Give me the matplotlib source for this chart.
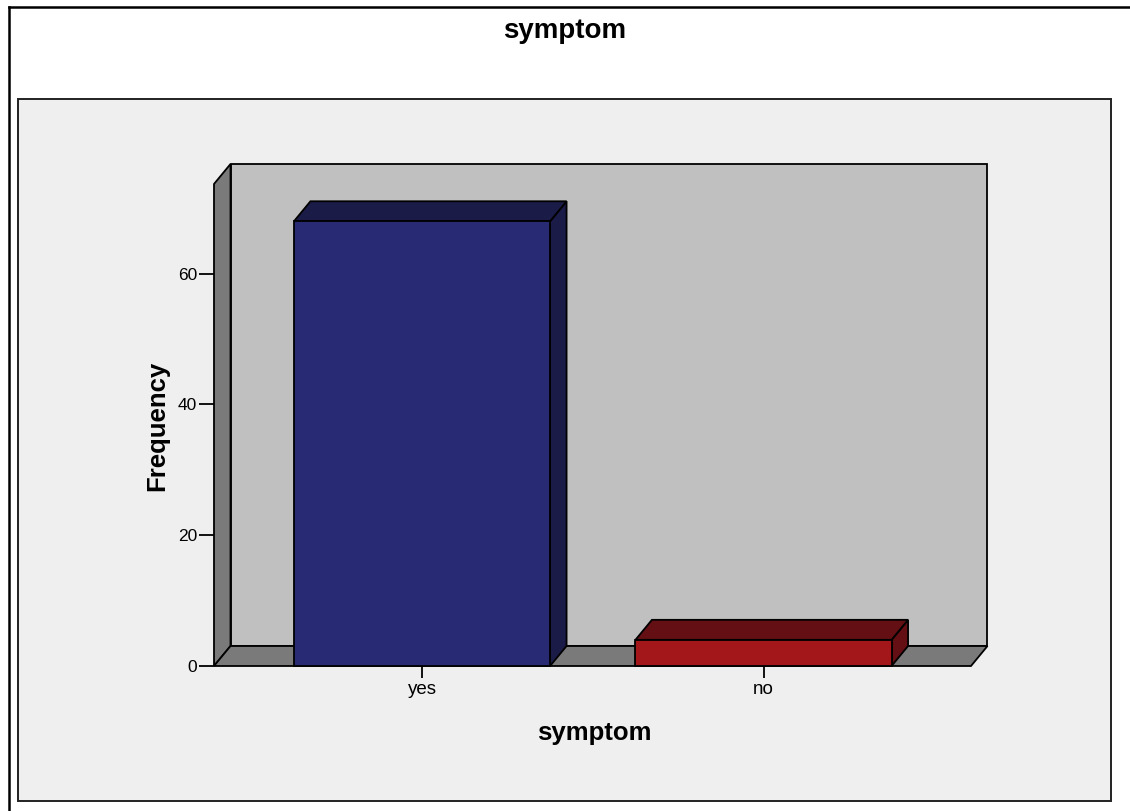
import matplotlib
matplotlib.use("Agg")
import matplotlib.pyplot as plt
from matplotlib.patches import Polygon, Rectangle
from matplotlib import font_manager as fm
import os

# ---- data ----
title = "symptom"
categories = ["yes", "no"]
frequencies = [68, 4]
y_ticks = [0, 20, 40, 60]
x_label = "symptom"
y_label = "Frequency"

front_colors = ["#282A74", "#A3171B"]
shade_colors = ["#1B1B48", "#630F13"]

# locate regular (non-narrow) Liberation Sans
def find_font(name):
    for f in fm.findSystemFonts():
        if os.path.basename(f) == name:
            return f
    return None

reg_path = find_font("LiberationSans-Regular.ttf")
bold_path = find_font("LiberationSans-Bold.ttf")
fp_reg = fm.FontProperties(fname=reg_path) if reg_path else fm.FontProperties(family="DejaVu Sans")
fp_bold = fm.FontProperties(fname=bold_path) if bold_path else fm.FontProperties(family="DejaVu Sans", weight="bold")

W, H = 1130, 811
fig = plt.figure(figsize=(W / 100, H / 100), dpi=100)
fig.patch.set_facecolor("white")

def fx(px):
    return px / W

def fy(py):
    return 1 - py / H

# outer border (left & top visible)
fig.add_artist(plt.Line2D([fx(9), fx(9)], [fy(7), fy(812)], color="black", lw=1.8))
fig.add_artist(plt.Line2D([fx(9), fx(1131)], [fy(7), fy(7)], color="black", lw=1.8))

# inner panel
fig.add_artist(Rectangle((fx(18), fy(801)), fx(1111) - fx(18), fy(99) - fy(801),
                         transform=fig.transFigure, facecolor="#EFEFEF",
                         edgecolor="#222222", lw=1.4, zorder=0))

# main axes (front plane)
left_px, right_px, bot_px, top_px = 214, 971, 666, 184
ax = fig.add_axes([fx(left_px), fy(bot_px), fx(right_px) - fx(left_px), fy(top_px) - fy(bot_px)])
ax.set_facecolor("none")
for s in ax.spines.values():
    s.set_visible(False)

px_per_val = 6.54
unit_px = 341.5
xmin = -(422 - left_px) / unit_px
xmax = 1 + (right_px - 763.5) / unit_px
ymax = (bot_px - top_px) / px_per_val
ax.set_xlim(xmin, xmax)
ax.set_ylim(0, ymax)

dx = 16.5 * (xmax - xmin) / (right_px - left_px)
dy = 20 * ymax / (bot_px - top_px)

lw = 1.3
ec = "black"

def poly(pts, fc, z):
    p = Polygon(pts, closed=True, facecolor=fc, edgecolor=ec, lw=lw,
                clip_on=False, zorder=z, joinstyle="miter")
    ax.add_patch(p)

# back wall
poly([(xmin + dx, dy), (xmax + dx, dy), (xmax + dx, ymax + dy), (xmin + dx, ymax + dy)], "#C0C0C0", 1)
# left wall
poly([(xmin, 0), (xmin, ymax), (xmin + dx, ymax + dy), (xmin + dx, dy)], "#7A7A7A", 2)
# floor
poly([(xmin, 0), (xmax, 0), (xmax + dx, dy), (xmin + dx, dy)], "#7A7A7A", 2)

# bars
bw = 0.75
for i, (cat, v) in enumerate(zip(categories, frequencies)):
    x0, x1 = i - bw / 2, i + bw / 2
    poly([(x1, 0), (x1 + dx, dy), (x1 + dx, v + dy), (x1, v)], shade_colors[i], 3)
    poly([(x0, v), (x1, v), (x1 + dx, v + dy), (x0 + dx, v + dy)], shade_colors[i], 3)
    poly([(x0, 0), (x1, 0), (x1, v), (x0, v)], front_colors[i], 4)

# axes ticks
ax.set_yticks(y_ticks)
ax.set_yticklabels([str(t) for t in y_ticks])
ax.set_xticks(range(len(categories)))
ax.set_xticklabels(categories)
ax.tick_params(axis="y", length=11, width=1.3, color="black", pad=1)
ax.tick_params(axis="x", length=8.5, width=1.3, color="black", pad=2.5)
for lab in ax.get_yticklabels():
    lab.set_fontproperties(fp_reg)
    lab.set_fontsize(12.5)
for lab in ax.get_xticklabels():
    lab.set_fontproperties(fp_reg)
    lab.set_fontsize(13.5)

fig.text(0.5, fy(31), title, ha="center", va="center", fontproperties=fp_bold, fontsize=20)
fig.text(fx(594), fy(733), x_label, ha="center", va="center", fontproperties=fp_bold, fontsize=18.5)
fig.text(fx(157), fy(426), y_label, ha="center", va="center", fontproperties=fp_bold,
         fontsize=18.5, rotation=90)

fig.savefig("out.png", dpi=100)
